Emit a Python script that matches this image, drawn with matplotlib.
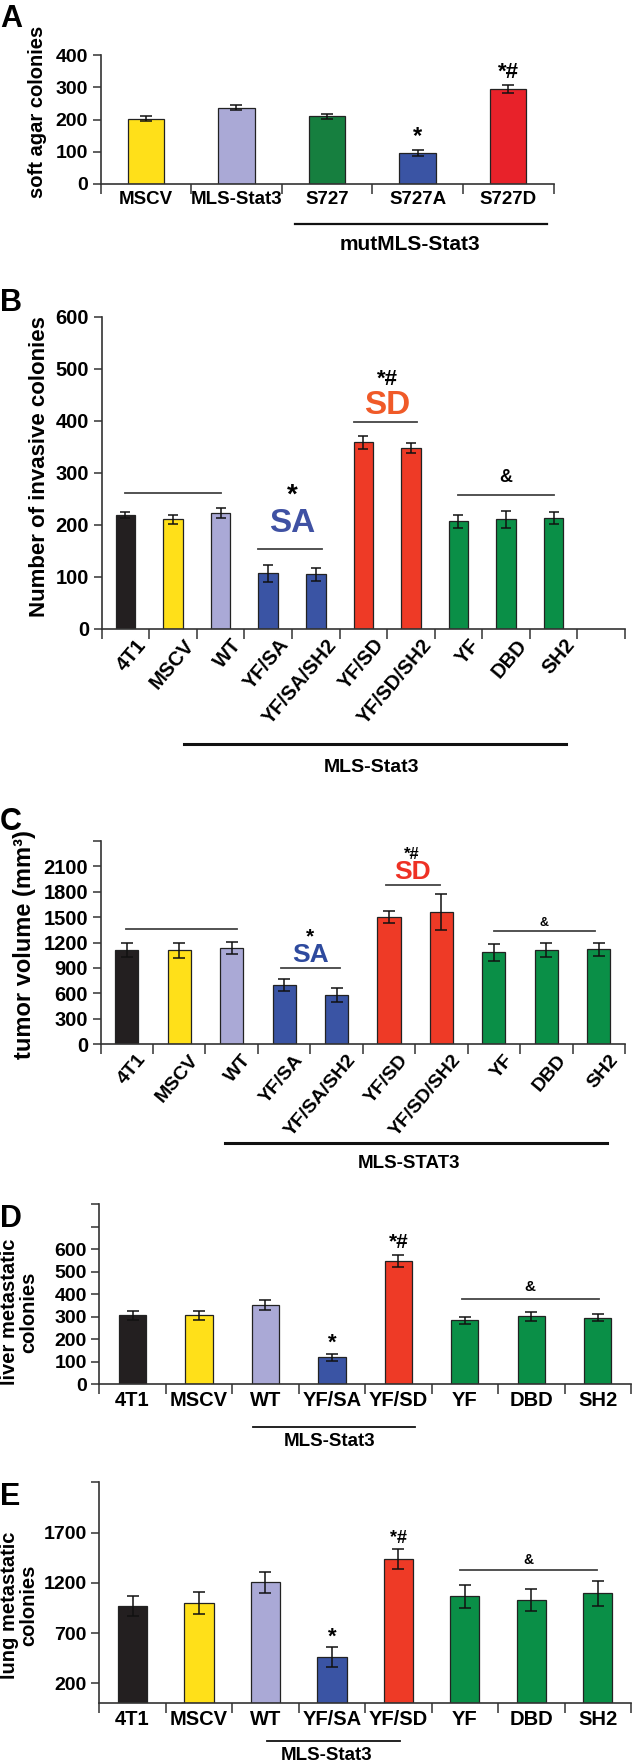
import matplotlib
matplotlib.use("Agg")
import matplotlib.pyplot as plt
from matplotlib.transforms import ScaledTranslation, blended_transform_factory

W, H = 633, 1762
DPI = 100

plt.rcParams["font.family"] = ["Liberation Sans", "DejaVu Sans"]
plt.rcParams["font.weight"] = "bold"

BLACK = "#231f20"
YELLOW = "#ffe019"
LAVENDER = "#aaa9d6"
BLUE = "#3a54a4"
RED = "#ee3a26"
GREEN = "#0a8f47"
RED_A = "#e8222a"
GREEN_A = "#167f3f"

# panel A
A_LABELS = ["MSCV", "MLS-Stat3", "S727", "S727A", "S727D"]
A_VALUES = [202, 236, 210, 96, 295]
A_ERRORS = [8, 8, 8, 10, 12]
A_COLORS = [YELLOW, LAVENDER, GREEN_A, BLUE, RED_A]

# panel B
B_LABELS = ["4T1", "MSCV", "WT", "YF/SA", "YF/SA/SH2", "YF/SD", "YF/SD/SH2", "YF", "DBD", "SH2"]
B_VALUES = [218, 210, 222, 106, 104, 358, 347, 206, 210, 213]
B_ERRORS = [6, 8, 10, 16, 12, 12, 9, 12, 17, 11]
B_COLORS = [BLACK, YELLOW, LAVENDER, BLUE, BLUE, RED, RED, GREEN, GREEN, GREEN]

# panel C
C_LABELS = B_LABELS
C_VALUES = [1107, 1107, 1135, 701, 583, 1505, 1556, 1087, 1107, 1119]
C_ERRORS = [83, 93, 71, 73, 79, 71, 211, 100, 83, 77]
C_COLORS = B_COLORS

# panels D and E
DE_LABELS = ["4T1", "MSCV", "WT", "YF/SA", "YF/SD", "YF", "DBD", "SH2"]
DE_COLORS = [BLACK, YELLOW, LAVENDER, BLUE, RED, GREEN, GREEN, GREEN]
D_VALUES = [306, 306, 352, 120, 548, 284, 302, 295]
D_ERRORS = [21, 20, 24, 15, 28, 16, 19, 16]
E_VALUES = [972, 998, 1203, 462, 1438, 1064, 1028, 1097]
E_ERRORS = [98, 106, 103, 99, 98, 118, 111, 123]

fig = plt.figure(figsize=(W / DPI, H / DPI), dpi=DPI)


def panel(box, labels, values, errors, colors, nslots, ylim, yticks, shown,
          width, tick_fs, xlab_fs, rotate=False, cap=4):
    left, top, right, bottom = box
    ax = fig.add_axes([left / W, 1 - bottom / H, (right - left) / W, (bottom - top) / H])
    xs = [i + 0.5 for i in range(len(values))]
    ax.bar(xs, values, width=width, color=colors, edgecolor="#222222", linewidth=0.9, zorder=2)
    ax.errorbar(xs, values, yerr=errors, fmt="none", ecolor="#111111", elinewidth=1.1,
                capsize=cap, capthick=1.1, zorder=3)
    ax.set_xlim(0, nslots)
    ax.set_ylim(*ylim)
    for s in ("top", "right"):
        ax.spines[s].set_visible(False)
    for s in ("left", "bottom"):
        ax.spines[s].set_linewidth(1.2)
        ax.spines[s].set_color("#333333")
    ax.set_xticks(range(nslots + 1), minor=True)
    ax.set_xticks(xs)
    ax.tick_params(axis="x", which="minor", length=7, width=1.1, direction="out", color="#333333")
    ax.tick_params(axis="x", which="major", length=0, pad=5)
    ax.set_yticks(yticks)
    ax.set_yticklabels([str(t) if ok else "" for t, ok in zip(yticks, shown)],
                       fontsize=tick_fs, fontweight="bold")
    ax.tick_params(axis="y", length=6, width=1.1, direction="out", color="#333333", pad=3)
    if rotate:
        ax.set_xticklabels(labels, rotation=50, ha="right", va="top", rotation_mode="anchor",
                           fontsize=xlab_fs, fontweight="bold")
        off = ScaledTranslation(10 / DPI, 0, fig.dpi_scale_trans)
        for t in ax.get_xticklabels():
            t.set_transform(t.get_transform() + off)
    else:
        ax.set_xticklabels(labels, fontsize=xlab_fs, fontweight="bold")
    return ax


def hline(ax, x0, x1, y, lw=1.3, color="#444444"):
    ax.plot([x0, x1], [y, y], color=color, lw=lw, clip_on=False, zorder=4)


def group(ax, x0, x1, py_line, text, py_text, xt, fs, lw=2.2):
    tr = blended_transform_factory(ax.transData, fig.transFigure)
    ax.plot([x0, x1], [1 - py_line / H] * 2, color="#111111", lw=lw, transform=tr, clip_on=False)
    ax.text(xt, 1 - py_text / H, text, transform=tr, ha="center", va="center",
            fontsize=fs, fontweight="bold")


def letter(px, py, s):
    fig.text(px / W, 1 - py / H, s, fontsize=22, fontweight="bold", ha="left", va="center")


def ylab(px, py, s, fs, ls=1.0):
    fig.text(px / W, 1 - py / H, s, rotation=90, fontsize=fs, fontweight="bold",
             ha="center", va="center", linespacing=ls)


# ---- A ----
axA = panel((100.5, 55, 553.5, 184), A_LABELS, A_VALUES, A_ERRORS, A_COLORS, 5, (0, 400),
            [0, 100, 200, 300, 400], [True] * 5, 0.4, 14, 13.5)
axA.text(3.5, 146, "*", ha="center", va="center", fontsize=17)
axA.text(4.5, 347, "*#", ha="center", va="center", fontsize=16)
group(axA, 2.15, 4.93, 224, "mutMLS-Stat3", 244, 3.41, 15, lw=1.6)
letter(0, 19, "A")
ylab(38, 112, "soft agar colonies", 14.5)

# ---- B ----
axB = panel((101.7, 316.7, 625, 628.5), B_LABELS, B_VALUES, B_ERRORS, B_COLORS, 11, (0, 600),
            list(range(0, 700, 100)), [True] * 7, 0.41, 14.5, 14.5, rotate=True, cap=3.5)
hline(axB, 0.5, 2.5, 261)
axB.text(4.0, 255, "*", ha="center", va="center", fontsize=20)
axB.text(4.0, 203, "SA", ha="center", va="center", fontsize=24, color="#3f51a3")
hline(axB, 3.28, 4.63, 153)
axB.text(6.0, 480, "*#", ha="center", va="center", fontsize=16)
axB.text(6.0, 430, "SD", ha="center", va="center", fontsize=24, color="#f05a28")
hline(axB, 5.3, 6.62, 397)
axB.text(8.5, 290, "&", ha="center", va="center", fontsize=13)
hline(axB, 7.5, 9.5, 257)
group(axB, 1.73, 9.75, 744, "MLS-Stat3", 767, 5.68, 14)
letter(0, 303, "B")
ylab(40, 467, "Number of invasive colonies", 16)

# ---- C ----
axC = panel((100.5, 840.7, 625, 1044.3), C_LABELS, C_VALUES, C_ERRORS, C_COLORS, 10, (0, 2400),
            list(range(0, 2700, 300)), [True] * 8 + [False], 0.44, 14.5, 14, rotate=True, cap=4)
hline(axC, 0.48, 2.61, 1354)
axC.text(4.0, 1268, "*", ha="center", va="center", fontsize=15)
axC.text(4.0, 1055, "SA", ha="center", va="center", fontsize=19, color="#2e4a9e")
hline(axC, 3.44, 4.57, 902)
axC.text(5.94, 2237, "*#", ha="center", va="center", fontsize=12)
axC.text(5.94, 2036, "SD", ha="center", va="center", fontsize=19, color="#ee3124")
hline(axC, 5.45, 6.47, 1874)
axC.text(8.45, 1433, "&", ha="center", va="center", fontsize=9)
hline(axC, 7.5, 9.42, 1331)
group(axC, 2.38, 9.65, 1143, "MLS-STAT3", 1164, 5.89, 13.5)
letter(0, 822, "C")
ylab(25, 945, "tumor volume (mm³)", 17)

# ---- D ----
axD = panel((99.3, 1204.3, 631, 1384.2), DE_LABELS, D_VALUES, D_ERRORS, DE_COLORS, 8, (0, 800),
            list(range(0, 900, 100)), [True] * 7 + [False, False], 0.41, 14, 14.5, cap=4.5)
axD.text(3.5, 183, "*", ha="center", va="center", fontsize=16)
axD.text(4.5, 628, "*#", ha="center", va="center", fontsize=15)
axD.text(6.48, 432, "&", ha="center", va="center", fontsize=11)
hline(axD, 5.46, 7.52, 379)
group(axD, 2.31, 4.75, 1427, "MLS-Stat3", 1441, 3.46, 13.5, lw=1.3)
letter(0, 1219, "D")
ylab(19, 1312, "liver metastatic\ncolonies", 14.5)

# ---- E ----
axE = panel((99.3, 1482.3, 631, 1703.4), DE_LABELS, E_VALUES, E_ERRORS, DE_COLORS, 8, (0, 2200),
            [200, 700, 1200, 1700, 2200], [True] * 4 + [False], 0.44, 14, 14.5, cap=4.5)
axE.text(3.5, 660, "*", ha="center", va="center", fontsize=16)
axE.text(4.5, 1644, "*#", ha="center", va="center", fontsize=13)
axE.text(6.45, 1425, "&", ha="center", va="center", fontsize=10)
hline(axE, 5.43, 7.49, 1326)
group(axE, 2.53, 4.52, 1740.7, "MLS-Stat3", 1755, 3.42, 13.5, lw=1.3)
letter(0, 1497, "E")
ylab(19, 1605, "lung metastatic\ncolonies", 14.5)

fig.savefig("out.png", dpi=DPI)
